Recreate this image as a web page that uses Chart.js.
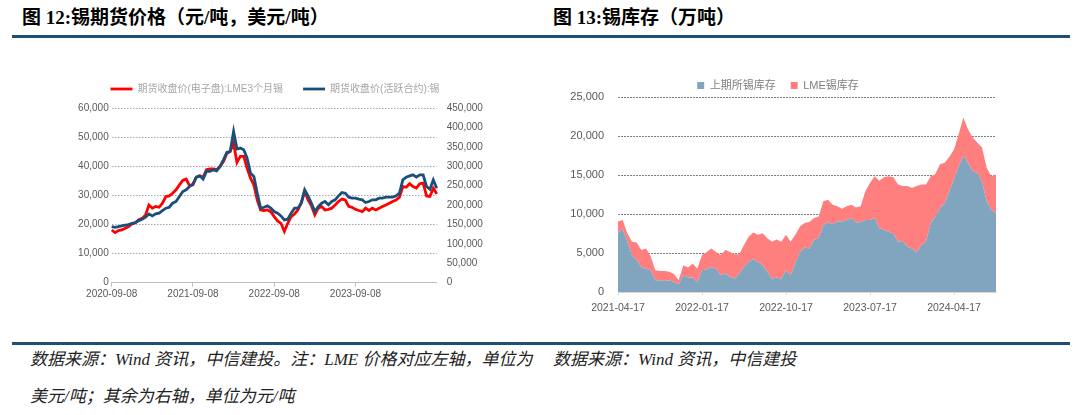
<!DOCTYPE html>
<html lang="zh-CN">
<head>
<meta charset="utf-8">
<script src="https://cdn.jsdelivr.net/npm/chart.js@4.4.1/dist/chart.umd.min.js"></script>
<style>
  body { margin: 0; width: 1080px; height: 415px; background: #fff; position: relative; overflow: hidden;
         font-family: "Liberation Serif", "Noto Sans CJK SC", serif; }
  .title { position: absolute; top: 6px; font-size: 19px; font-weight: bold; color: #000; line-height: 24px; white-space: nowrap; }
  .rule { position: absolute; left: 12px; width: 1058px; height: 3px; background: #1f4e79; }
  .note { position: absolute; font-size: 17px; font-style: italic; color: #222; line-height: 20px; white-space: nowrap; }
  canvas { position: absolute; }
</style>
</head>
<body>
<div class="title" style="left:22px">图 12:锡期货价格（元/吨，美元/吨）</div>
<div class="title" style="left:553px">图 13:锡库存（万吨）</div>
<div class="rule" style="top:35px"></div>

<canvas id="price" width="440" height="240" style="left:55px;top:64px"></canvas>
<canvas id="stock" width="493" height="260" style="left:560px;top:65px"></canvas>

<div class="rule" style="top:342px"></div>
<div class="note" style="left:30px;top:350px">数据来源：Wind 资讯，中信建投。注：LME 价格对应左轴，单位为</div>
<div class="note" style="left:30px;top:387px">美元/吨；其余为右轴，单位为元/吨</div>
<div class="note" style="left:553px;top:350px">数据来源：Wind 资讯，中信建投</div>

<script>
// ---- left chart: tin futures prices, half-monthly readings ----
const priceDates = [];
for (let y = 2020, m = 9; y < 2024 || (y === 2024 && m <= 9); m += 1) {
  if (m > 12) { m = 1; y += 1; }
  const mm = String(m).padStart(2, '0');
  priceDates.push(`${y}-${mm}-08`);
  if (!(y === 2024 && m === 9)) priceDates.push(`${y}-${mm}-23`);
}
const priceTicks = ['2020-09-08', '2021-09-08', '2022-09-08', '2023-09-08'];

// LME 3M tin, USD/t (left axis)
const lmeTin = [
  18100, 17200, 17900, 18100, 18700, 19300, 20200, 20600, 21600, 22100,
  23300, 26700, 25600, 26200, 25900, 27300, 29600, 29800, 30700, 31900,
  33600, 35100, 35600, 33300, 33600, 36200, 36700, 36200, 38800, 39100,
  39100, 38800, 39900, 41600, 44300, 45100, 47900, 41300, 43400, 43400,
  39300, 35900, 33600, 28400, 25000, 24800, 25000, 24400, 22700, 21200,
  20400, 17600, 20400, 22700, 23600, 25000, 27500, 31300, 28400, 26400,
  23300, 25600, 26200, 25000, 25200, 25600, 26700, 27900, 28700, 28400,
  26200, 25900, 25200, 24800, 24400, 25600, 24800, 25600, 25000, 25600,
  26200, 26700, 27300, 27900, 28400, 29400, 33000, 32800, 34000, 33000,
  32500, 34000, 34200, 29800, 29600, 32500, 30500,
];
// SHFE active contract, CNY/t (right axis)
const shfeTin = [
  144500, 142800, 144500, 146300, 148000, 149700, 153100, 154900, 160000, 163500,
  168600, 177200, 172100, 177200, 179000, 185800, 191900, 194400, 204800, 209100,
  222000, 234900, 239200, 247800, 254700, 271900, 275300, 266700, 286500, 286500,
  290800, 288200, 299400, 316600, 335600, 338100, 389700, 344200, 346700, 342400,
  320900, 282200, 273600, 230600, 191900, 194400, 197900, 191900, 183300, 179000,
  172100, 161800, 163500, 179000, 191900, 191900, 204800, 239200, 223700, 204800,
  183300, 196200, 204800, 209100, 200500, 209100, 213400, 223700, 232300, 230600,
  220300, 217700, 217700, 215100, 213400, 206500, 209100, 213400, 213400, 217700,
  217700, 220300, 220300, 220300, 223700, 230600, 265000, 271900, 275300, 277900,
  271900, 277900, 277900, 247800, 240900, 265000, 243500,
];

// ---- right chart: tin inventories, half-monthly readings ----
const stockDates = [];
for (let y = 2021, m = 4; y < 2024 || (y === 2024 && m <= 9); m += 1) {
  if (m > 12) { m = 1; y += 1; }
  const mm = String(m).padStart(2, '0');
  if (!(y === 2021 && m === 4)) stockDates.push(`${y}-${mm}-02`);
  if (!(y === 2024 && m === 9)) stockDates.push(`${y}-${mm}-17`);
}
const stockTicks = ['2021-04-17', '2022-01-17', '2022-10-17', '2023-07-17', '2024-04-17'];

const shfeStock = [
  7600, 8100, 6500, 4700, 4100, 3200, 3000, 2800, 1500, 1500,
  1400, 1500, 1300, 1000, 2150, 1850, 1850, 1300, 2800, 2900,
  3200, 3000, 2150, 2400, 1950, 1700, 2400, 3200, 3900, 4200,
  3900, 3450, 2600, 1700, 1850, 1700, 2800, 2150, 3750, 5150,
  5700, 5600, 6700, 6900, 8600, 8950, 8700, 9050, 9050, 9250,
  9500, 8950, 8950, 9250, 9250, 9500, 8200, 8000, 7750, 7550,
  6450, 6550, 5800, 5600, 5150, 6050, 6450, 8850, 9700, 10800,
  11400, 12900, 14450, 16150, 17500, 16600, 15500, 15300, 14200, 11650,
  10550, 10100,
];
const lmeStock = [
  1450, 1150, 1050, 1750, 2250, 2200, 2600, 1800, 1300, 1200,
  1300, 1100, 1000, 500, 1300, 1300, 1800, 1700, 1950, 2250,
  2400, 2150, 2600, 3000, 3200, 3150, 2450, 2850, 3200, 3450,
  3450, 4100, 4300, 4750, 4900, 4750, 4550, 4300, 3600, 3250,
  3150, 3400, 2800, 2800, 3050, 2900, 2500, 1950, 1650, 1750,
  1700, 1900, 2050, 3700, 4750, 5350, 6100, 6750, 7100, 7200,
  7350, 7050, 7800, 7750, 8450, 7750, 7350, 6000, 5450, 5600,
  5200, 4450, 3850, 4100, 4900, 4300, 4350, 3900, 4350, 4300,
  4300, 5000,
];

Chart.defaults.font.family = '"Liberation Sans", "Noto Sans CJK SC", sans-serif';
Chart.defaults.animation = false;

// fixes the legend box height so the plot area lands where it should
const legendHeight = (h) => ({
  id: 'legendHeight',
  beforeInit(chart) {
    const fit = chart.legend.fit;
    chart.legend.fit = function () { fit.call(this); this.height = h; };
  },
});

const keepTicks = (wanted) => (axis) => {
  axis.ticks = axis.ticks.filter((t) => wanted.includes(axis.getLabelForValue(t.value)));
};

const noZero = (color) => (c) => (c.tick && c.tick.value === 0 ? 'rgba(0,0,0,0)' : color);

new Chart(document.getElementById('price'), {
  type: 'line',
  data: {
    labels: priceDates,
    datasets: [
      {
        label: '期货收盘价(电子盘):LME3个月锡',
        data: lmeTin,
        borderColor: '#ff0000',
        backgroundColor: '#ff0000',
        borderWidth: 2.8,
        pointRadius: 0,
        tension: 0,
        yAxisID: 'y',
        order: 2,
      },
      {
        label: '期货收盘价(活跃合约):锡',
        data: shfeTin,
        borderColor: '#1a4f7a',
        backgroundColor: '#1a4f7a',
        borderWidth: 2.8,
        pointRadius: 0,
        tension: 0,
        yAxisID: 'y1',
        order: 1,
      },
    ],
  },
  options: {
    responsive: false,
    locale: 'en-US',
    layout: { padding: 0 },
    plugins: {
      tooltip: { enabled: false },
      legend: {
        position: 'top',
        labels: {
          usePointStyle: true,
          pointStyle: 'line',
          pointStyleWidth: 22,
          padding: 20,
          color: '#a6a6a6',
          font: { size: 10 },
          sort: (a, b) => a.datasetIndex - b.datasetIndex,
        },
      },
    },
    scales: {
      x: {
        afterBuildTicks: keepTicks(priceTicks),
        afterFit: (s) => { s.height = 21.3; },
        grid: { drawOnChartArea: false, drawTicks: true, tickLength: 4, color: '#bfbfbf' },
        border: { color: '#bfbfbf', width: 1 },
        ticks: { autoSkip: false, maxRotation: 0, padding: 2, color: '#595959', font: { size: 10 } },
      },
      y: {
        position: 'left',
        min: 0,
        max: 60000,
        afterFit: (s) => { s.width = 56.7; },
        grid: { color: noZero('#a6a6a6'), drawTicks: false, lineWidth: 1 },
        border: { display: false, dash: [1.5, 1.5] },
        ticks: { stepSize: 10000, padding: 3, color: '#595959', font: { size: 10 } },
      },
      y1: {
        position: 'right',
        min: 0,
        max: 450000,
        afterFit: (s) => { s.width = 58.3; },
        grid: { display: false, drawTicks: false },
        border: { display: false },
        ticks: { stepSize: 50000, padding: 10, color: '#595959', font: { size: 10 } },
      },
    },
  },
  plugins: [legendHeight(44)],
});

new Chart(document.getElementById('stock'), {
  type: 'line',
  data: {
    labels: stockDates,
    datasets: [
      {
        label: '上期所锡库存',
        data: shfeStock,
        borderWidth: 0,
        borderColor: 'rgba(0,0,0,0)',
        backgroundColor: '#82a5bf',
        pointRadius: 0,
        tension: 0,
        fill: 'origin',
      },
      {
        label: 'LME锡库存',
        data: lmeStock,
        borderWidth: 0,
        borderColor: 'rgba(0,0,0,0)',
        backgroundColor: '#ff7f7f',
        pointRadius: 0,
        tension: 0,
        fill: '-1',
      },
    ],
  },
  options: {
    responsive: false,
    locale: 'en-US',
    layout: { padding: { right: 57 } },
    plugins: {
      tooltip: { enabled: false },
      legend: {
        position: 'top',
        labels: {
          boxWidth: 7,
          boxHeight: 7,
          padding: 15,
          color: '#7f7f7f',
          font: { size: 11 },
        },
      },
    },
    scales: {
      x: {
        afterBuildTicks: keepTicks(stockTicks),
        afterFit: (s) => { s.height = 33; },
        grid: { drawOnChartArea: false, drawTicks: true, tickLength: 3, color: '#d9d9d9' },
        border: { color: '#d9d9d9', width: 1 },
        ticks: { autoSkip: false, maxRotation: 0, padding: 7, color: '#595959', font: { size: 10.5 } },
      },
      y: {
        stacked: true,
        min: 0,
        max: 25000,
        afterFit: (s) => { s.width = 58; },
        grid: { color: noZero('#7f7f7f'), drawTicks: false, lineWidth: 1 },
        border: { display: false, dash: [2, 1] },
        ticks: { stepSize: 5000, padding: 14, color: '#595959', font: { size: 11 } },
      },
    },
  },
  plugins: [legendHeight(32.3)],
});
</script>
</body>
</html>
